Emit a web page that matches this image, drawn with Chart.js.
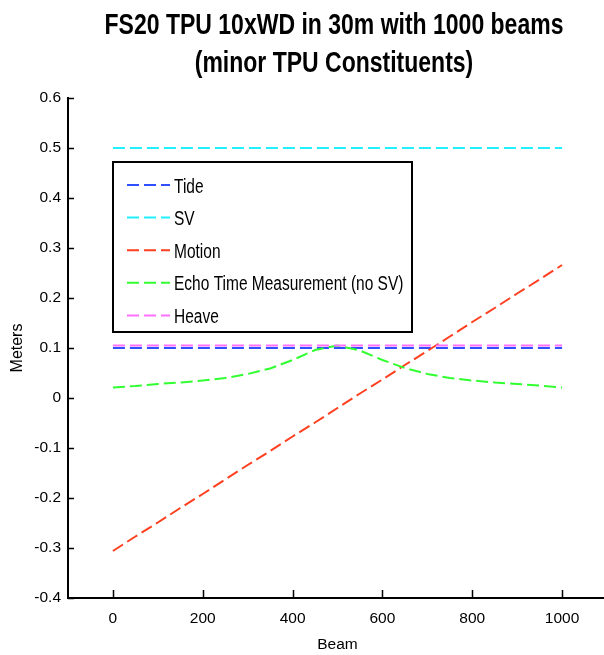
<!DOCTYPE html>
<html>
<head>
<meta charset="utf-8">
<script src="https://cdn.jsdelivr.net/npm/chart.js@4.4.1/dist/chart.umd.min.js"></script>
<style>
    html, body { margin: 0; padding: 0; background: #fff; overflow: hidden; }
    #wrap { position: relative; width: 607px; height: 655px; }
</style>
</head>
<body>
<div id="wrap"><canvas id="tpuChart"></canvas></div>
<script>
const TITLE_LINES = ['FS20 TPU 10xWD in 30m with 1000 beams', '(minor TPU Constituents)'];

const beams = [0, 50, 100, 150, 200, 250, 300, 350, 400, 450, 500,
    550, 600, 650, 700, 750, 800, 850, 900, 950, 1000];

const tide = [0.1, 0.1, 0.1, 0.1, 0.1, 0.1, 0.1, 0.1, 0.1, 0.1, 0.1,
    0.1, 0.1, 0.1, 0.1, 0.1, 0.1, 0.1, 0.1, 0.1, 0.1];
const sv = [0.5, 0.5, 0.5, 0.5, 0.5, 0.5, 0.5, 0.5, 0.5, 0.5, 0.5,
    0.5, 0.5, 0.5, 0.5, 0.5, 0.5, 0.5, 0.5, 0.5, 0.5];
const motion = [-0.306, -0.277, -0.249, -0.220, -0.192, -0.163, -0.134, -0.106, -0.077, -0.049, -0.020,
    0.009, 0.037, 0.066, 0.094, 0.123, 0.152, 0.180, 0.209, 0.237, 0.266];
const echoTime = [0.021, 0.024, 0.028, 0.031, 0.035, 0.040, 0.048, 0.059, 0.076, 0.096, 0.105,
    0.095, 0.076, 0.060, 0.048, 0.040, 0.035, 0.031, 0.028, 0.025, 0.021];
const heave = [0.105, 0.105, 0.105, 0.105, 0.105, 0.105, 0.105, 0.105, 0.105, 0.105, 0.105,
    0.105, 0.105, 0.105, 0.105, 0.105, 0.105, 0.105, 0.105, 0.105, 0.105];

const SERIES_LABELS = ['Tide', 'SV', 'Motion', 'Echo Time Measurement (no SV)', 'Heave'];
const SERIES_COLORS = ['#3050ff', '#20f0ff', '#ff4020', '#30ff30', '#ff70ff'];

const X_TICKS = [0, 200, 400, 600, 800, 1000];
const Y_TICKS = [-0.4, -0.3, -0.2, -0.1, 0, 0.1, 0.2, 0.3, 0.4, 0.5, 0.6];

const DASH = [12, 5];
const FAMILY = "'Liberation Sans', Arial, sans-serif";
// the original figure's lettering is tall and narrow
const STRETCH = 1.3;

function toXY(ys) {
    return beams.map((b, i) => ({x: b, y: ys[i]}));
}

function createDataSet(label, ys, color, order) {
    return {
        label,
        data: toXY(ys),
        borderColor: color,
        backgroundColor: color,
        borderWidth: 2,
        borderDash: DASH,
        pointRadius: 0,
        tension: 0,
        fill: false,
        order
    };
}

function tallText(ctx, text, x, y) {
    ctx.save();
    ctx.translate(x, y);
    ctx.scale(1, STRETCH);
    ctx.fillText(text, 0, 0);
    ctx.restore();
}

// two line bold title, centred over the axes
const tallTitle = {
    id: 'tallTitle',
    afterDraw(chart) {
        var ctx = chart.ctx;
        ctx.save();
        ctx.fillStyle = '#000';
        ctx.font = 'bold 23px ' + FAMILY;
        ctx.textAlign = 'center';
        ctx.textBaseline = 'alphabetic';
        tallText(ctx, TITLE_LINES[0], 334, 34);
        tallText(ctx, TITLE_LINES[1], 334, 72);
        ctx.restore();
    }
};

// tick marks drawn inward, like the original figure
const inwardTicks = {
    id: 'inwardTicks',
    afterDatasetsDraw(chart) {
        var ctx = chart.ctx, area = chart.chartArea;
        var x = chart.scales.x, y = chart.scales.y;
        ctx.save();
        ctx.strokeStyle = '#000';
        ctx.lineWidth = 1.5;
        ctx.beginPath();
        X_TICKS.forEach(v => {
            var px = Math.round(x.getPixelForValue(v)) + 0.5;
            ctx.moveTo(px, area.bottom);
            ctx.lineTo(px, area.bottom - 8);
        });
        Y_TICKS.forEach(v => {
            var py = Math.round(y.getPixelForValue(v)) + 0.5;
            ctx.moveTo(area.left, py);
            ctx.lineTo(area.left + 6, py);
        });
        ctx.stroke();
        ctx.restore();
    }
};

// boxed legend inside the axes
const boxLegend = {
    id: 'boxLegend',
    afterDraw(chart) {
        var ctx = chart.ctx;
        var left = 113, top = 162, w = 299, h = 170;
        ctx.save();
        ctx.fillStyle = '#fff';
        ctx.fillRect(left, top, w, h);
        ctx.strokeStyle = '#000';
        ctx.lineWidth = 2;
        ctx.strokeRect(left, top, w, h);
        ctx.font = '15.5px ' + FAMILY;
        ctx.textBaseline = 'alphabetic';
        ctx.textAlign = 'left';
        chart.data.datasets.forEach((ds, i) => {
            var yy = top + 23 + i * 32.6;
            ctx.strokeStyle = ds.borderColor;
            ctx.lineWidth = 2;
            ctx.setLineDash(DASH);
            ctx.beginPath();
            ctx.moveTo(127, yy);
            ctx.lineTo(170, yy);
            ctx.stroke();
            ctx.setLineDash([]);
            ctx.fillStyle = '#000';
            tallText(ctx, ds.label, 174, yy + 7.5);
        });
        ctx.restore();
    }
};

var datasets = [
    createDataSet(SERIES_LABELS[0], tide, SERIES_COLORS[0], 4),
    createDataSet(SERIES_LABELS[1], sv, SERIES_COLORS[1], 3),
    createDataSet(SERIES_LABELS[2], motion, SERIES_COLORS[2], 2),
    createDataSet(SERIES_LABELS[3], echoTime, SERIES_COLORS[3], 1),
    createDataSet(SERIES_LABELS[4], heave, SERIES_COLORS[4], 0)
];

var tickFont = {family: FAMILY, size: 15.5};

var config = {
    type: 'line',
    data: {datasets: datasets},
    plugins: [inwardTicks, boxLegend, tallTitle],
    options: {
        responsive: false,
        animation: false,
        events: [],
        layout: {padding: {top: 98, left: 0, right: 0, bottom: 0}},
        plugins: {
            legend: {display: false},
            tooltip: {enabled: false},
            title: {display: false}
        },
        scales: {
            x: {
                type: 'linear',
                min: -100,
                max: 1100,
                afterBuildTicks: s => { s.ticks = X_TICKS.map(v => ({value: v})); },
                afterFit: s => { s.height = 57; },
                grid: {display: false, drawTicks: false},
                border: {display: true, color: '#000', width: 2},
                ticks: {
                    color: '#000',
                    font: tickFont,
                    padding: 11,
                    maxRotation: 0,
                    autoSkip: false,
                    callback: v => String(v)
                },
                title: {display: true, text: 'Beam', color: '#000', font: tickFont, padding: {top: 0, bottom: 1}}
            },
            y: {
                type: 'linear',
                min: -0.4,
                max: 0.6,
                afterBuildTicks: s => { s.ticks = Y_TICKS.map(v => ({value: v})); },
                afterFit: s => { s.width = 68; },
                grid: {display: false, drawTicks: false},
                border: {display: true, color: '#000', width: 2},
                ticks: {
                    color: '#000',
                    font: tickFont,
                    padding: 7,
                    autoSkip: false,
                    callback: v => String(Number(v.toFixed(1)))
                },
                title: {display: true, text: 'Meters', color: '#000', font: {family: FAMILY, size: 16}, padding: {top: 8, bottom: 0}}
            }
        }
    }
};

var canvas = document.getElementById('tpuChart');
canvas.width = 607;
canvas.height = 655;
new Chart(canvas.getContext('2d'), config);
</script>
</body>
</html>
